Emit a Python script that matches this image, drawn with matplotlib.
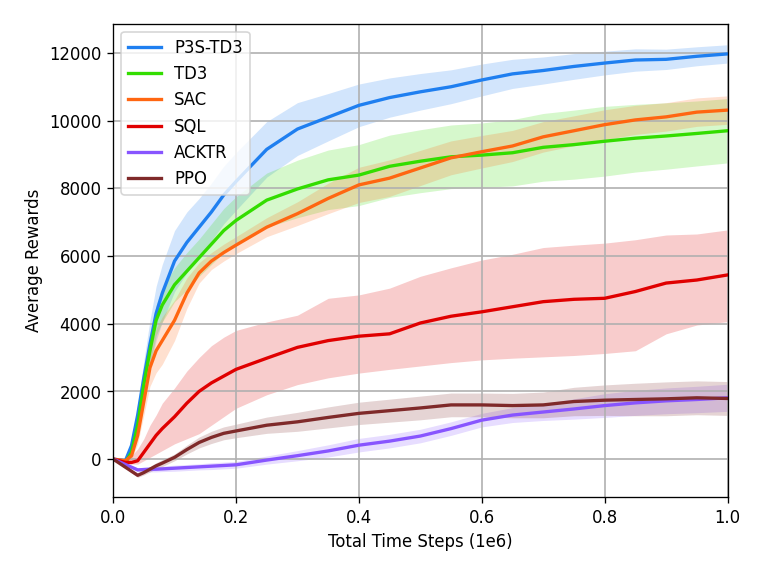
import matplotlib
matplotlib.use('Agg')
import matplotlib.pyplot as plt
import numpy as np

# Passos de tempo (1e6)
steps = [0, 0.02, 0.03, 0.04, 0.05, 0.06, 0.07, 0.08, 0.1, 0.12, 0.14, 0.16, 0.18, 0.2,
         0.25, 0.3, 0.35, 0.4, 0.45, 0.5, 0.55, 0.6, 0.65, 0.7, 0.75, 0.8, 0.85, 0.9, 0.95, 1.0]

# P3S-TD3
p3s_mean = [0, -50, 400, 1300, 2400, 3400, 4300, 4900, 5850, 6400, 6850, 7300, 7800, 8200,
            9150, 9750, 10100, 10450, 10680, 10850, 11000, 11200, 11380, 11480, 11600, 11700,
            11790, 11810, 11900, 11970]
p3s_std = [0, 50, 150, 300, 500, 700, 800, 850, 900, 900, 850, 850, 850, 850,
           820, 780, 700, 630, 580, 540, 500, 470, 430, 400, 380, 350, 330, 300, 280, 270]

# TD3
td3_mean = [0, -100, 200, 1000, 2200, 3200, 4100, 4550, 5150, 5550, 5950, 6350, 6750, 7050,
            7650, 7980, 8250, 8390, 8650, 8800, 8930, 8980, 9050, 9210, 9290, 9390, 9480,
            9545, 9620, 9700]
td3_std = [0, 50, 100, 200, 300, 400, 450, 500, 500, 550, 550, 600, 650, 700,
           800, 850, 880, 900, 920, 930, 940, 950, 980, 1000, 1020, 1030, 1000, 980, 960, 950]

# SAC
sac_mean = [0, -50, 100, 700, 1700, 2700, 3200, 3500, 4100, 4900, 5500, 5850, 6100, 6320,
            6850, 7250, 7700, 8100, 8300, 8600, 8900, 9080, 9250, 9520, 9700, 9880, 10020,
            10110, 10250, 10310]
sac_std = [0, 50, 100, 250, 400, 550, 650, 700, 600, 450, 300, 250, 250, 250,
           280, 350, 450, 520, 540, 520, 500, 480, 460, 450, 440, 440, 430, 420, 420, 420]

# SQL (banda assimetrica)
sql_mean = [0, -100, -100, -50, 200, 450, 700, 900, 1250, 1650, 2000, 2250, 2450, 2650,
            2980, 3300, 3500, 3630, 3700, 4020, 4220, 4350, 4500, 4650, 4720, 4750, 4950,
            5200, 5290, 5440]
sql_lo = [0, -150, -150, -150, -50, 50, 150, 250, 450, 600, 750, 1000, 1250, 1500,
          1900, 2200, 2400, 2540, 2650, 2750, 2850, 2930, 2980, 3020, 3060, 3120, 3200,
          3700, 3960, 4060]
sql_hi = [0, 0, 100, 300, 600, 1000, 1300, 1650, 2100, 2600, 3000, 3350, 3600, 3800,
          4050, 4250, 4750, 4850, 5050, 5400, 5650, 5880, 6050, 6250, 6320, 6380, 6480,
          6620, 6650, 6770]

# ACKTR
acktr_mean = [0, -160, -240, -320, -310, -300, -300, -290, -270, -250, -230, -210, -190, -170,
              -30, 100, 240, 410, 530, 680, 900, 1150, 1300, 1390, 1480, 1580, 1660, 1720,
              1760, 1810]
acktr_std = [0, 20, 40, 60, 70, 80, 80, 80, 90, 90, 90, 100, 100, 100,
             120, 150, 180, 200, 200, 200, 200, 200, 220, 250, 300, 350, 370, 380, 390, 400]

# PPO
ppo_mean = [0, -240, -360, -480, -400, -300, -200, -120, 50, 280, 490, 640, 760, 830,
            1000, 1100, 1230, 1350, 1430, 1510, 1600, 1600, 1580, 1600, 1700, 1740, 1760,
            1780, 1810, 1790]
ppo_std = [0, 30, 50, 60, 70, 80, 90, 100, 100, 130, 160, 180, 190, 200,
           240, 280, 310, 330, 340, 350, 350, 350, 360, 380, 420, 450, 480, 500, 500, 500]

labels = ['P3S-TD3', 'TD3', 'SAC', 'SQL', 'ACKTR', 'PPO']
colors = ['#1f7ff0', '#33dd00', '#ff6611', '#e00000', '#8855ff', '#7f2a2a']

x = np.array(steps)
series = [
    (np.array(p3s_mean), np.array(p3s_mean) - np.array(p3s_std), np.array(p3s_mean) + np.array(p3s_std)),
    (np.array(td3_mean), np.array(td3_mean) - np.array(td3_std), np.array(td3_mean) + np.array(td3_std)),
    (np.array(sac_mean), np.array(sac_mean) - np.array(sac_std), np.array(sac_mean) + np.array(sac_std)),
    (np.array(sql_mean), np.array(sql_lo), np.array(sql_hi)),
    (np.array(acktr_mean), np.array(acktr_mean) - np.array(acktr_std), np.array(acktr_mean) + np.array(acktr_std)),
    (np.array(ppo_mean), np.array(ppo_mean) - np.array(ppo_std), np.array(ppo_mean) + np.array(ppo_std)),
]

fig, ax = plt.subplots(figsize=(6.4, 4.8), dpi=119)
fig.subplots_adjust(left=0.1485, right=0.9553, top=0.958, bottom=0.1296)

for (m, lo, hi), lab, c in zip(series, labels, colors):
    ax.fill_between(x, lo, hi, color=c, alpha=0.2, lw=0)
    ax.plot(x, m, color=c, lw=2, label=lab)

ax.set_xlim(0, 1.0)
ax.set_ylim(-1120, 12860)
ax.set_xlabel('Total Time Steps (1e6)')
ax.set_ylabel('Average Rewards')
ax.grid(True, color='#b0b0b0', lw=1)
ax.legend(loc='upper left')

fig.savefig('out.png', dpi=119)
